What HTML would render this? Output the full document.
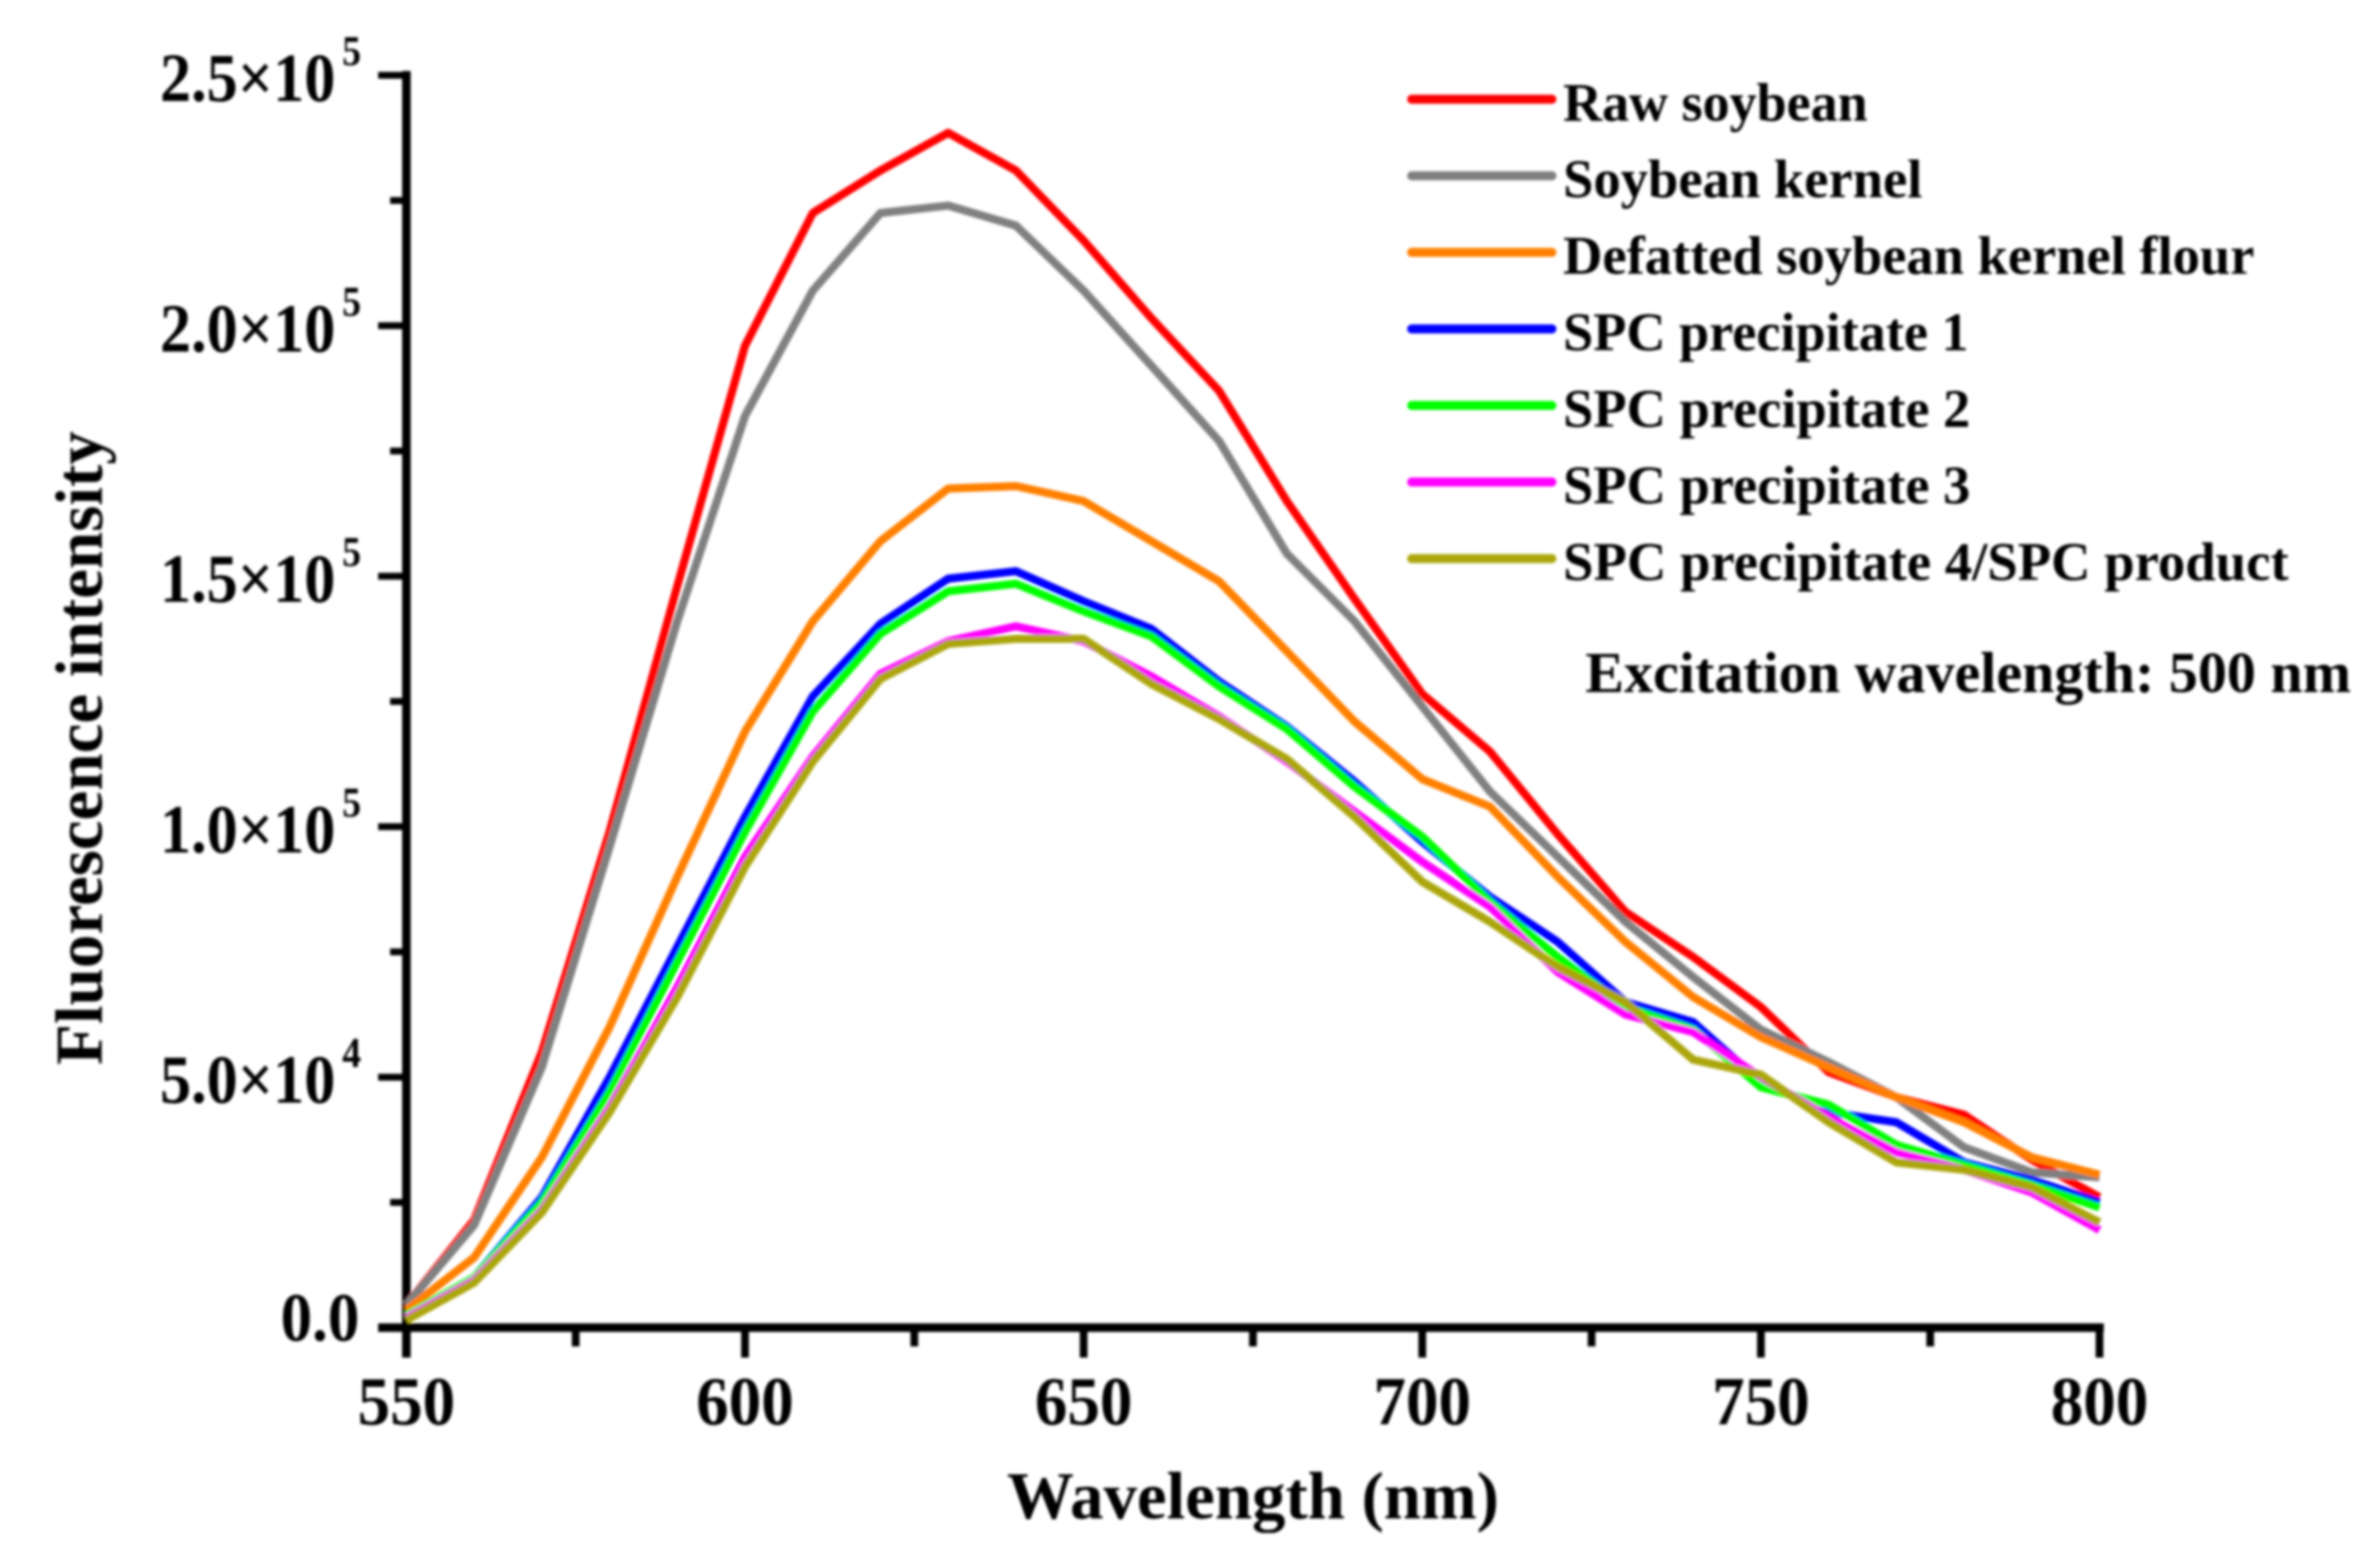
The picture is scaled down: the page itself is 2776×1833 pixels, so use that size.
<!DOCTYPE html>
<html lang="en">
<head>
<meta charset="utf-8">
<title>Fluorescence spectra</title>
<style>
html,body{margin:0;padding:0;background:#fff;width:2776px;height:1833px;overflow:hidden}
svg{display:block}
text{font-family:"Liberation Serif",serif;font-weight:700;fill:#000}
</style>
</head>
<body>
<svg id="chart" xmlns="http://www.w3.org/2000/svg" width="2776" height="1833" viewBox="0 0 2776 1833">
<defs><filter id="soft" x="-2%" y="-2%" width="104%" height="104%"><feGaussianBlur stdDeviation="1.5"/></filter></defs>
<rect width="2776" height="1833" fill="#fff"/>
<g id="root" filter="url(#soft)"></g>
</svg>
<script>
const wavelengths = [550,560,570,580,590,600,610,620,630,640,650,660,670,680,690,700,710,720,730,740,750,760,770,780,790,800];
const rawSoybean = [4.5,21.5,55,99,148,196,222.5,231,238.5,231,217,201.5,187,165,145.5,126.5,115,98.5,83,74,64,51,46,42.5,33.5,26];
const soybeanKernel = [4.5,20.5,52,96,141,182,207,222.5,224,220,207,192,177,154.5,141,124,107,94,81,70,59.5,53,46,36,31,30];
const defattedFlour = [3.5,14,34,60,90,119,141,157,167.5,168,165,157,149,135,121,109.5,104,90,77,66,58,52,46,41,34,30.5];
const precipitate1 = [2.5,10,26,50,76,102,126,140.5,149.5,151,145,139.5,129,120,109,97,86,77,65,61,49,43,41,33,29.5,25];
const precipitate2 = [2.5,10,25,47,73,99,123,138.5,147,148.5,143,138,128,119.5,108,98,85,74,64,59.5,48,44.5,36.5,32.5,28.5,24];
const precipitate3 = [2,9.5,23.5,44,68,94,114,130.5,137,140,137,130,122,113,103,93,84,71,62.5,59,50,42,35,31.5,27,19.5];
const precipitate4 = [1.5,9,23,43,66,92,113,129.5,136.5,137.5,137.5,128.5,121.5,113.5,102,89,81,72,65,53.5,50.5,41,33,31.5,28,21];
const seriesNames = ['Raw soybean','Soybean kernel','Defatted soybean kernel flour','SPC precipitate 1','SPC precipitate 2','SPC precipitate 3','SPC precipitate 4/SPC product'];
const seriesKeys = ['raw-soybean','soybean-kernel','defatted-flour','spc-precipitate-1','spc-precipitate-2','spc-precipitate-3','spc-precipitate-4'];
const seriesColors = ['#ff0000','#808080','#ff8000','#0000ff','#00ff00','#ff00ff','#aca60f'];
const seriesValues = [rawSoybean,soybeanKernel,defattedFlour,precipitate1,precipitate2,precipitate3,precipitate4];
const xTickValues = [550,600,650,700,750,800];
const xMinorValues = [575,625,675,725,775];
const yTickValues = [0,50,100,150,200,250];
const yTickLabels = ['0.0','5.0×10','1.0×10','1.5×10','2.0×10','2.5×10'];
const yTickExponents = ['','4','5','5','5','5'];
const yMinorValues = [25,75,125,175,225];

const NS = 'http://www.w3.org/2000/svg';
const root = document.getElementById('root');
const X0 = 475, X1 = 2454, Y0 = 1552, Y1 = 88;
function xScale(v){ return X0 + (v - 550) / 250 * (X1 - X0); }
function yScale(v){ return Y0 - v / 250 * (Y0 - Y1); }
function line(parent, x1, y1, x2, y2, color, w){
  const el = document.createElementNS(NS, 'line');
  el.setAttribute('x1', x1); el.setAttribute('y1', y1);
  el.setAttribute('x2', x2); el.setAttribute('y2', y2);
  el.setAttribute('stroke', color); el.setAttribute('stroke-width', w);
  parent.appendChild(el);
  return el;
}
function text(parent, str, x, y, size, anchor, len){
  const el = document.createElementNS(NS, 'text');
  el.setAttribute('x', x); el.setAttribute('y', y);
  el.setAttribute('font-size', size);
  if (anchor) el.setAttribute('text-anchor', anchor);
  if (len) { el.setAttribute('textLength', len); el.setAttribute('lengthAdjust', 'spacingAndGlyphs'); }
  el.textContent = str;
  parent.appendChild(el);
  return el;
}
function group(parent){
  const g = document.createElementNS(NS, 'g');
  parent.appendChild(g);
  return g;
}

/* axes */
const yAxisLine = line(root, X0, Y1 - 5, X0, Y0 + 35, '#000', 10);


const xAxisLine = line(root, X0 - 33, Y0, X1 + 5, Y0, '#000', 10);



xTickValues.forEach(function(v){
  const t = line(root, xScale(v), Y0, xScale(v), Y0 + 35, '#000', 9);
  
  
  const l = text(root, String(v), xScale(v), 1665, 80, 'middle', 114);
  
  
});
xMinorValues.forEach(function(v){
  const t = line(root, xScale(v), Y0, xScale(v), Y0 + 22, '#000', 9);
  
  
});
yTickValues.forEach(function(v, i){
  const y = yScale(v);
  const t = line(root, X0 - 33, y, X0, y, '#000', 8);
  
  
  if (yTickExponents[i]) {
    const l = text(root, yTickLabels[i], 187, y + 30, 81, null, 205);
    
    
    const e = text(root, yTickExponents[i], 400, y - 12, 50, null, 22);
    
    
  } else {
    const l = text(root, yTickLabels[i], 328, y + 15, 81, null, 92);
    
    
  }
});
yMinorValues.forEach(function(v){
  const t = line(root, X0 - 19, yScale(v), X0, yScale(v), '#000', 8);
  
  
});

/* series */
seriesValues.forEach(function(vals, s){
  const p = document.createElementNS(NS, 'polyline');
  p.setAttribute('points', vals.map(function(v, i){ return xScale(wavelengths[i]).toFixed(1) + ',' + yScale(v).toFixed(1); }).join(' '));
  p.setAttribute('fill', 'none');
  p.setAttribute('stroke', seriesColors[s]);
  p.setAttribute('stroke-width', 9.5);
  p.setAttribute('stroke-linejoin', 'round');
  
  
  root.appendChild(p);
});

/* legend */
const legendGroup = group(root);


const legendWidths = [356, 420, 808, 474, 476, 476, 848];
seriesNames.forEach(function(name, i){
  const y = 116 + i * 89.5;
  const entry = group(legendGroup);
  
  
  const sw = line(entry, 1650, y, 1814, y, seriesColors[i], 10.5);
  sw.setAttribute('stroke-linecap', 'round');
  
  
  const lb = text(entry, name, 1827, 141 + i * 89.5, 63, null, legendWidths[i]);
  
  
});
const note = text(root, 'Excitation wavelength: 500 nm', 1853, 809, 68, null, 895);



/* axis titles */
const xTitle = text(root, 'Wavelength (nm)', 1177, 1775, 78, null, 575);


const yTitle = text(root, 'Fluorescence intensity', 0, 0, 78, null, 741);
yTitle.setAttribute('transform', 'translate(119,1245) rotate(-90)');


</script>
</body>
</html>
